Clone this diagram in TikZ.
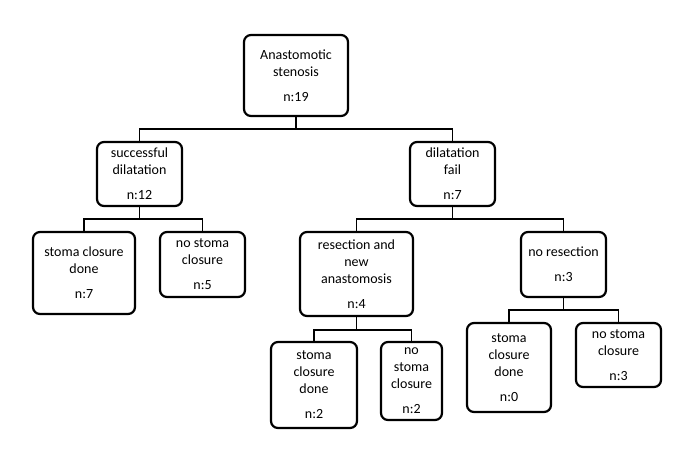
\documentclass[tikz,border=0pt]{standalone}
\usepackage{fontspec}
\setmainfont{Carlito}
\begin{document}
\begin{tikzpicture}[x=1pt,y=-1pt,
  box/.style={draw=black,line width=2.2pt,rounded corners=7pt,inner sep=0pt,align=center,
    font=\fontsize{14}{17}\selectfont},
  conn/.style={draw=black,line width=1.3pt}]
\useasboundingbox[fill=white] (0,0) rectangle (698,448);
\node[box,minimum width=104pt,minimum height=81pt] (root) at (296,75.5) {Anastomotic\\stenosis\\[8pt]n:19};
\node[box,minimum width=85pt,minimum height=64pt] (succ) at (139.5,174) {successful\\dilatation\\[8pt]n:12};
\node[box,minimum width=85pt,minimum height=64pt] (fail) at (452.5,174) {dilatation\\fail\\[8pt]n:7};
\node[box,minimum width=102pt,minimum height=82pt] (scL) at (84,273) {stoma closure\\done\\[8pt]n:7};
\node[box,minimum width=85pt,minimum height=65pt] (nscL) at (202.5,264.5) {no stoma\\closure\\[8pt]n:5};
\node[box,minimum width=113pt,minimum height=84pt] (res) at (356.5,274) {resection and\\new\\anastomosis\\[8pt]n:4};
\node[box,minimum width=85pt,minimum height=65pt] (nores) at (563.5,264.5) {no resection\\[8pt]n:3};
\node[box,minimum width=86pt,minimum height=86pt] (sctwo) at (314,385) {stoma\\closure\\done\\[8pt]n:2};
\node[box,minimum width=61pt,minimum height=78pt] (nsctwo) at (411.5,381) {no\\stoma\\closure\\[8pt]n:2};
\node[box,minimum width=84pt,minimum height=89pt] (scthree) at (509,367.5) {stoma\\closure\\done\\[8pt]n:0};
\node[box,minimum width=85pt,minimum height=64pt] (nscthree) at (618.5,355) {no stoma\\closure\\[8pt]n:3};
\draw[conn] (root.south) -- ++(0,12) -| (succ.north);
\draw[conn] (root.south) -- ++(0,12) -| (fail.north);
\draw[conn] (succ.south) -- ++(0,12) -| (scL.north);
\draw[conn] (succ.south) -- ++(0,12) -| (nscL.north);
\draw[conn] (fail.south) -- ++(0,12) -| (res.north);
\draw[conn] (fail.south) -- ++(0,12) -| (nores.north);
\draw[conn] (res.south) -- ++(0,13) -| (sctwo.north);
\draw[conn] (res.south) -- ++(0,13) -| (nsctwo.north);
\draw[conn] (nores.south) -- ++(0,12) -| (scthree.north);
\draw[conn] (nores.south) -- ++(0,12) -| (nscthree.north);
\end{tikzpicture}
\end{document}
